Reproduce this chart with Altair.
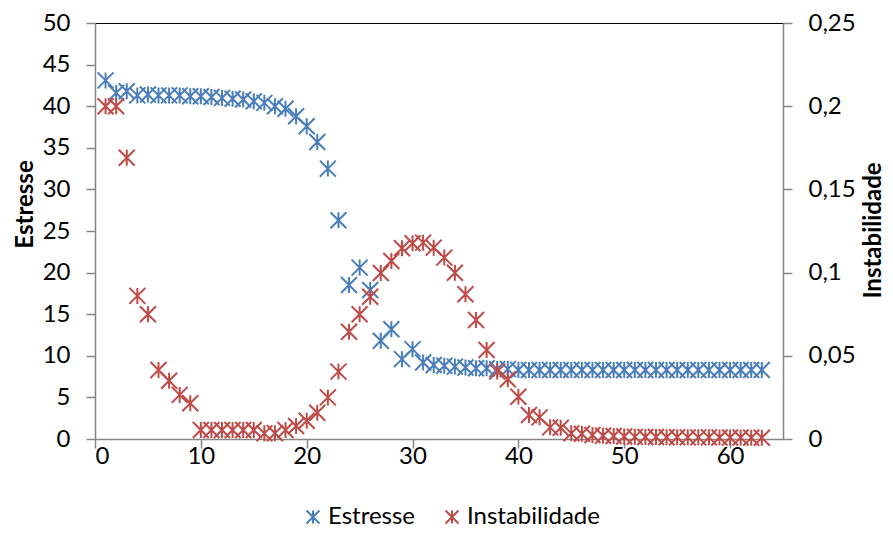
import altair as alt
import pandas as pd

x_vals = list(range(1, 64))

estresse = [
    43.1, 41.6, 41.8, 41.3, 41.4, 41.3, 41.3, 41.3, 41.2, 41.2,
    41.1, 41.0, 40.9, 40.8, 40.6, 40.4, 40.0, 39.7, 38.8, 37.6,
    35.7, 32.5, 26.3, 18.5, 20.6, 17.9, 11.8, 13.2, 9.6, 10.8,
    9.2, 8.9, 8.8, 8.7, 8.6, 8.5, 8.5, 8.4, 8.4, 8.3,
    8.3, 8.3, 8.3, 8.3, 8.3, 8.3, 8.3, 8.3, 8.3, 8.3,
    8.3, 8.3, 8.3, 8.3, 8.3, 8.3, 8.3, 8.3, 8.3, 8.3,
    8.3, 8.3, 8.3,
]

instabilidade = [
    0.2000, 0.2000, 0.1690, 0.0860, 0.0750, 0.0415, 0.0350, 0.0265, 0.0215, 0.0054,
    0.0054, 0.0054, 0.0054, 0.0054, 0.0054, 0.0034, 0.0035, 0.0054, 0.0078, 0.0110,
    0.0158, 0.0250, 0.0405, 0.0645, 0.0750, 0.0855, 0.0998, 0.1070, 0.1146, 0.1176,
    0.1180, 0.1150, 0.1090, 0.0999, 0.0870, 0.0715, 0.0535, 0.0405, 0.0359, 0.0254,
    0.0144, 0.0130, 0.0070, 0.0068, 0.0034, 0.0032, 0.0024, 0.0020, 0.0018, 0.0015,
    0.0013, 0.0012, 0.0012, 0.0011, 0.0011, 0.0010, 0.0010, 0.0010, 0.0009, 0.0009,
    0.0009, 0.0008, 0.0008,
]

series_names = ["Estresse", "Instabilidade"]
series_colors = ["#4A7EBB", "#BE4B48"]
x_ticks = [0, 10, 20, 30, 40, 50, 60]
left_ticks = [0, 5, 10, 15, 20, 25, 30, 35, 40, 45, 50]
right_ticks = [0, 0.05, 0.1, 0.15, 0.2, 0.25]

STAR = "M-1,-1L1,1M-1,1L1,-1M0,-1L0,1"
FONT = "Lato"
AXIS_GRAY = "#868686"

df1 = pd.DataFrame({"x": x_vals, "value": estresse, "series": series_names[0]})
df2 = pd.DataFrame({"x": x_vals, "value": instabilidade, "series": series_names[1]})

color = alt.Color(
    "series:N",
    scale=alt.Scale(domain=series_names, range=series_colors),
    title=None,
    legend=alt.Legend(
        orient="none",
        direction="horizontal",
        legendX=206,
        legendY=482,
        symbolType=STAR,
        symbolSize=169,
        symbolStrokeWidth=2,
        symbolFillColor="transparent",
        labelFont=FONT,
        labelFontSize=24,
        labelColor="black",
        labelOffset=3,
        columnPadding=24,
        padding=0,
    ),
)

xenc = alt.X(
    "x:Q",
    scale=alt.Scale(domain=[0, 65], nice=False, zero=False),
    axis=alt.Axis(values=x_ticks, title=None, grid=False, labelPadding=-4),
)

blue = alt.Chart(df1).mark_point(
    shape=STAR, filled=False, size=256, strokeWidth=2, opacity=1
).encode(
    x=xenc,
    y=alt.Y(
        "value:Q",
        scale=alt.Scale(domain=[0, 50], nice=False),
        axis=alt.Axis(
            orient="left", values=left_ticks, grid=False, title="Estresse",
            titleAngle=270, titleX=-70, titleY=181,
            titleAlign="center", titleBaseline="middle",
        ),
    ),
    color=color,
)

red = alt.Chart(df2).mark_point(
    shape=STAR, filled=False, size=256, strokeWidth=2, opacity=1
).encode(
    x=xenc,
    y=alt.Y(
        "value:Q",
        scale=alt.Scale(domain=[0, 0.25], nice=False),
        axis=alt.Axis(
            orient="right", values=right_ticks, grid=False, title="Instabilidade",
            titleAngle=270, titleX=90, titleY=207,
            titleAlign="center", titleBaseline="middle",
            labelExpr="replace(format(datum.value, '.2~f'), '.', ',')",
        ),
    ),
    color=color,
)

chart = alt.layer(blue, red).resolve_scale(y="independent").properties(
    width=688,
    height=416,
    autosize=alt.AutoSizeParams(type="none"),
    padding={"left": 87, "top": 15, "right": 102, "bottom": 92},
    background="white",
).configure_view(
    stroke="black", strokeWidth=1
).configure_axis(
    domainColor=AXIS_GRAY,
    domainWidth=1.5,
    tickColor=AXIS_GRAY,
    tickWidth=1.5,
    tickSize=9,
    labelPadding=16,
    labelFont=FONT,
    labelFontSize=24,
    labelColor="black",
    titleFont=FONT,
    titleFontSize=24,
    titleFontWeight="bold",
    titleColor="black",
)

chart.save("out.html", embed_options={"renderer": "svg", "actions": False})
